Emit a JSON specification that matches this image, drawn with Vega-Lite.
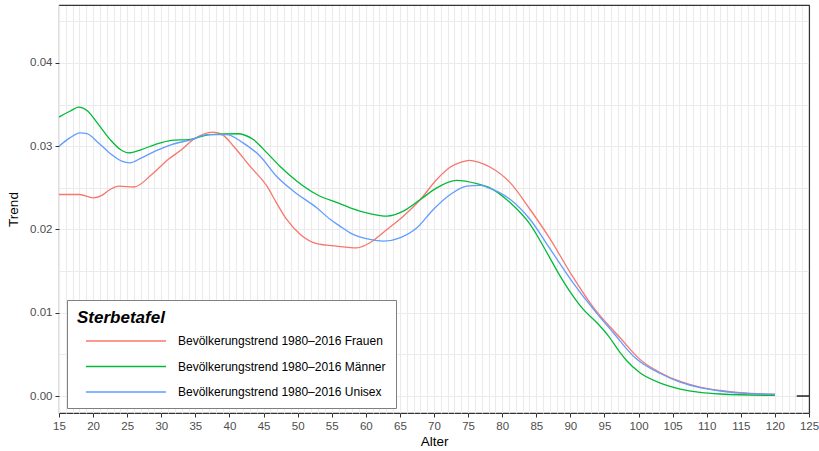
{
  "$schema": "https://vega.github.io/schema/vega-lite/v6.json",
  "width": 750,
  "height": 408,
  "autosize": "none",
  "padding": {"left": 59, "top": 5, "right": 10, "bottom": 38},
  "background": "white",
  "config": {
    "font": "Liberation Sans",
    "view": {"stroke": "#333333", "strokeWidth": 1.1},
    "axis": {
      "domain": false,
      "tickColor": "#333333",
      "tickSize": 4,
      "tickWidth": 1,
      "labelColor": "#4d4d4d",
      "labelFontSize": 11.5,
      "labelPadding": 3,
      "titleColor": "black",
      "titleFontSize": 13.5,
      "titleFontWeight": "normal",
      "gridColor": "#ebebeb",
      "gridWidth": 1.1
    }
  },
  "resolve": {"axis": {"x": "independent", "y": "independent"}},
  "datasets": {
    "kurven": [
      {"Sterbetafel": "Bevölkerungstrend 1980–2016 Frauen", "Alter": 15, "Trend": 0.0242},
      {"Sterbetafel": "Bevölkerungstrend 1980–2016 Frauen", "Alter": 18, "Trend": 0.0242},
      {"Sterbetafel": "Bevölkerungstrend 1980–2016 Frauen", "Alter": 20, "Trend": 0.0238},
      {"Sterbetafel": "Bevölkerungstrend 1980–2016 Frauen", "Alter": 21.3, "Trend": 0.0241},
      {"Sterbetafel": "Bevölkerungstrend 1980–2016 Frauen", "Alter": 22.5, "Trend": 0.0248},
      {"Sterbetafel": "Bevölkerungstrend 1980–2016 Frauen", "Alter": 23.8, "Trend": 0.0252},
      {"Sterbetafel": "Bevölkerungstrend 1980–2016 Frauen", "Alter": 26, "Trend": 0.0251},
      {"Sterbetafel": "Bevölkerungstrend 1980–2016 Frauen", "Alter": 28.6, "Trend": 0.0266},
      {"Sterbetafel": "Bevölkerungstrend 1980–2016 Frauen", "Alter": 31, "Trend": 0.0284},
      {"Sterbetafel": "Bevölkerungstrend 1980–2016 Frauen", "Alter": 33, "Trend": 0.0296},
      {"Sterbetafel": "Bevölkerungstrend 1980–2016 Frauen", "Alter": 34.7, "Trend": 0.0308},
      {"Sterbetafel": "Bevölkerungstrend 1980–2016 Frauen", "Alter": 37.6, "Trend": 0.0317},
      {"Sterbetafel": "Bevölkerungstrend 1980–2016 Frauen", "Alter": 39.1, "Trend": 0.0313},
      {"Sterbetafel": "Bevölkerungstrend 1980–2016 Frauen", "Alter": 40.6, "Trend": 0.0300},
      {"Sterbetafel": "Bevölkerungstrend 1980–2016 Frauen", "Alter": 43, "Trend": 0.0276},
      {"Sterbetafel": "Bevölkerungstrend 1980–2016 Frauen", "Alter": 45.5, "Trend": 0.0252},
      {"Sterbetafel": "Bevölkerungstrend 1980–2016 Frauen", "Alter": 46.9, "Trend": 0.0232},
      {"Sterbetafel": "Bevölkerungstrend 1980–2016 Frauen", "Alter": 48.4, "Trend": 0.0212},
      {"Sterbetafel": "Bevölkerungstrend 1980–2016 Frauen", "Alter": 50.4, "Trend": 0.0194},
      {"Sterbetafel": "Bevölkerungstrend 1980–2016 Frauen", "Alter": 52.8, "Trend": 0.0183},
      {"Sterbetafel": "Bevölkerungstrend 1980–2016 Frauen", "Alter": 55.7, "Trend": 0.0180},
      {"Sterbetafel": "Bevölkerungstrend 1980–2016 Frauen", "Alter": 58.7, "Trend": 0.0178},
      {"Sterbetafel": "Bevölkerungstrend 1980–2016 Frauen", "Alter": 60.6, "Trend": 0.0184},
      {"Sterbetafel": "Bevölkerungstrend 1980–2016 Frauen", "Alter": 63.1, "Trend": 0.0200},
      {"Sterbetafel": "Bevölkerungstrend 1980–2016 Frauen", "Alter": 65.5, "Trend": 0.0216},
      {"Sterbetafel": "Bevölkerungstrend 1980–2016 Frauen", "Alter": 68, "Trend": 0.0236},
      {"Sterbetafel": "Bevölkerungstrend 1980–2016 Frauen", "Alter": 70.4, "Trend": 0.0260},
      {"Sterbetafel": "Bevölkerungstrend 1980–2016 Frauen", "Alter": 72.4, "Trend": 0.0275},
      {"Sterbetafel": "Bevölkerungstrend 1980–2016 Frauen", "Alter": 74, "Trend": 0.0281},
      {"Sterbetafel": "Bevölkerungstrend 1980–2016 Frauen", "Alter": 75.2, "Trend": 0.0283},
      {"Sterbetafel": "Bevölkerungstrend 1980–2016 Frauen", "Alter": 76.5, "Trend": 0.0281},
      {"Sterbetafel": "Bevölkerungstrend 1980–2016 Frauen", "Alter": 78.2, "Trend": 0.0275},
      {"Sterbetafel": "Bevölkerungstrend 1980–2016 Frauen", "Alter": 81.2, "Trend": 0.0256},
      {"Sterbetafel": "Bevölkerungstrend 1980–2016 Frauen", "Alter": 84.1, "Trend": 0.0224},
      {"Sterbetafel": "Bevölkerungstrend 1980–2016 Frauen", "Alter": 87, "Trend": 0.0189},
      {"Sterbetafel": "Bevölkerungstrend 1980–2016 Frauen", "Alter": 90, "Trend": 0.0148},
      {"Sterbetafel": "Bevölkerungstrend 1980–2016 Frauen", "Alter": 93.6, "Trend": 0.0104},
      {"Sterbetafel": "Bevölkerungstrend 1980–2016 Frauen", "Alter": 97.3, "Trend": 0.0070},
      {"Sterbetafel": "Bevölkerungstrend 1980–2016 Frauen", "Alter": 100.2, "Trend": 0.0044},
      {"Sterbetafel": "Bevölkerungstrend 1980–2016 Frauen", "Alter": 103.2, "Trend": 0.0028},
      {"Sterbetafel": "Bevölkerungstrend 1980–2016 Frauen", "Alter": 106.1, "Trend": 0.00175},
      {"Sterbetafel": "Bevölkerungstrend 1980–2016 Frauen", "Alter": 109, "Trend": 0.00108},
      {"Sterbetafel": "Bevölkerungstrend 1980–2016 Frauen", "Alter": 112, "Trend": 0.00067},
      {"Sterbetafel": "Bevölkerungstrend 1980–2016 Frauen", "Alter": 114.9, "Trend": 0.0004},
      {"Sterbetafel": "Bevölkerungstrend 1980–2016 Frauen", "Alter": 120, "Trend": 0.0002},

      {"Sterbetafel": "Bevölkerungstrend 1980–2016 Männer", "Alter": 15, "Trend": 0.0335},
      {"Sterbetafel": "Bevölkerungstrend 1980–2016 Männer", "Alter": 16.6, "Trend": 0.0342},
      {"Sterbetafel": "Bevölkerungstrend 1980–2016 Männer", "Alter": 17.9, "Trend": 0.0347},
      {"Sterbetafel": "Bevölkerungstrend 1980–2016 Männer", "Alter": 19.1, "Trend": 0.0343},
      {"Sterbetafel": "Bevölkerungstrend 1980–2016 Männer", "Alter": 20.8, "Trend": 0.0326},
      {"Sterbetafel": "Bevölkerungstrend 1980–2016 Männer", "Alter": 22.5, "Trend": 0.0308},
      {"Sterbetafel": "Bevölkerungstrend 1980–2016 Männer", "Alter": 24, "Trend": 0.0296},
      {"Sterbetafel": "Bevölkerungstrend 1980–2016 Männer", "Alter": 25.2, "Trend": 0.0292},
      {"Sterbetafel": "Bevölkerungstrend 1980–2016 Männer", "Alter": 27.1, "Trend": 0.0296},
      {"Sterbetafel": "Bevölkerungstrend 1980–2016 Männer", "Alter": 29.1, "Trend": 0.0302},
      {"Sterbetafel": "Bevölkerungstrend 1980–2016 Männer", "Alter": 31.5, "Trend": 0.0307},
      {"Sterbetafel": "Bevölkerungstrend 1980–2016 Männer", "Alter": 34, "Trend": 0.0308},
      {"Sterbetafel": "Bevölkerungstrend 1980–2016 Männer", "Alter": 37.2, "Trend": 0.0314},
      {"Sterbetafel": "Bevölkerungstrend 1980–2016 Männer", "Alter": 41.1, "Trend": 0.0315},
      {"Sterbetafel": "Bevölkerungstrend 1980–2016 Männer", "Alter": 43.5, "Trend": 0.0308},
      {"Sterbetafel": "Bevölkerungstrend 1980–2016 Männer", "Alter": 45.5, "Trend": 0.0292},
      {"Sterbetafel": "Bevölkerungstrend 1980–2016 Männer", "Alter": 47.4, "Trend": 0.0276},
      {"Sterbetafel": "Bevölkerungstrend 1980–2016 Männer", "Alter": 49.9, "Trend": 0.0258},
      {"Sterbetafel": "Bevölkerungstrend 1980–2016 Männer", "Alter": 52.8, "Trend": 0.0242},
      {"Sterbetafel": "Bevölkerungstrend 1980–2016 Männer", "Alter": 56.2, "Trend": 0.0231},
      {"Sterbetafel": "Bevölkerungstrend 1980–2016 Männer", "Alter": 57.7, "Trend": 0.0226},
      {"Sterbetafel": "Bevölkerungstrend 1980–2016 Männer", "Alter": 60.6, "Trend": 0.0219},
      {"Sterbetafel": "Bevölkerungstrend 1980–2016 Männer", "Alter": 63.1, "Trend": 0.0216},
      {"Sterbetafel": "Bevölkerungstrend 1980–2016 Männer", "Alter": 65.5, "Trend": 0.0222},
      {"Sterbetafel": "Bevölkerungstrend 1980–2016 Männer", "Alter": 68, "Trend": 0.0236},
      {"Sterbetafel": "Bevölkerungstrend 1980–2016 Männer", "Alter": 70.4, "Trend": 0.0250},
      {"Sterbetafel": "Bevölkerungstrend 1980–2016 Männer", "Alter": 73.3, "Trend": 0.0259},
      {"Sterbetafel": "Bevölkerungstrend 1980–2016 Männer", "Alter": 76.3, "Trend": 0.0255},
      {"Sterbetafel": "Bevölkerungstrend 1980–2016 Männer", "Alter": 78.2, "Trend": 0.0250},
      {"Sterbetafel": "Bevölkerungstrend 1980–2016 Männer", "Alter": 81.2, "Trend": 0.0232},
      {"Sterbetafel": "Bevölkerungstrend 1980–2016 Männer", "Alter": 84.1, "Trend": 0.0206},
      {"Sterbetafel": "Bevölkerungstrend 1980–2016 Männer", "Alter": 86.3, "Trend": 0.0176},
      {"Sterbetafel": "Bevölkerungstrend 1980–2016 Männer", "Alter": 88.5, "Trend": 0.0144},
      {"Sterbetafel": "Bevölkerungstrend 1980–2016 Männer", "Alter": 90.4, "Trend": 0.0120},
      {"Sterbetafel": "Bevölkerungstrend 1980–2016 Männer", "Alter": 91.9, "Trend": 0.0104},
      {"Sterbetafel": "Bevölkerungstrend 1980–2016 Männer", "Alter": 93.9, "Trend": 0.0088},
      {"Sterbetafel": "Bevölkerungstrend 1980–2016 Männer", "Alter": 95.6, "Trend": 0.0072},
      {"Sterbetafel": "Bevölkerungstrend 1980–2016 Männer", "Alter": 97.3, "Trend": 0.0052},
      {"Sterbetafel": "Bevölkerungstrend 1980–2016 Männer", "Alter": 98.3, "Trend": 0.0042},
      {"Sterbetafel": "Bevölkerungstrend 1980–2016 Männer", "Alter": 100.2, "Trend": 0.0028},
      {"Sterbetafel": "Bevölkerungstrend 1980–2016 Männer", "Alter": 103.2, "Trend": 0.00156},
      {"Sterbetafel": "Bevölkerungstrend 1980–2016 Männer", "Alter": 106.1, "Trend": 0.00084},
      {"Sterbetafel": "Bevölkerungstrend 1980–2016 Männer", "Alter": 109, "Trend": 0.00043},
      {"Sterbetafel": "Bevölkerungstrend 1980–2016 Männer", "Alter": 112, "Trend": 0.00024},
      {"Sterbetafel": "Bevölkerungstrend 1980–2016 Männer", "Alter": 120, "Trend": 0.00007},

      {"Sterbetafel": "Bevölkerungstrend 1980–2016 Unisex", "Alter": 15, "Trend": 0.0300},
      {"Sterbetafel": "Bevölkerungstrend 1980–2016 Unisex", "Alter": 16.6, "Trend": 0.0310},
      {"Sterbetafel": "Bevölkerungstrend 1980–2016 Unisex", "Alter": 18.1, "Trend": 0.0316},
      {"Sterbetafel": "Bevölkerungstrend 1980–2016 Unisex", "Alter": 19.1, "Trend": 0.0315},
      {"Sterbetafel": "Bevölkerungstrend 1980–2016 Unisex", "Alter": 20.8, "Trend": 0.0304},
      {"Sterbetafel": "Bevölkerungstrend 1980–2016 Unisex", "Alter": 22.7, "Trend": 0.0290},
      {"Sterbetafel": "Bevölkerungstrend 1980–2016 Unisex", "Alter": 24.2, "Trend": 0.0282},
      {"Sterbetafel": "Bevölkerungstrend 1980–2016 Unisex", "Alter": 25.4, "Trend": 0.0280},
      {"Sterbetafel": "Bevölkerungstrend 1980–2016 Unisex", "Alter": 27.1, "Trend": 0.0286},
      {"Sterbetafel": "Bevölkerungstrend 1980–2016 Unisex", "Alter": 29.1, "Trend": 0.0294},
      {"Sterbetafel": "Bevölkerungstrend 1980–2016 Unisex", "Alter": 31.5, "Trend": 0.0302},
      {"Sterbetafel": "Bevölkerungstrend 1980–2016 Unisex", "Alter": 34.5, "Trend": 0.0308},
      {"Sterbetafel": "Bevölkerungstrend 1980–2016 Unisex", "Alter": 36.7, "Trend": 0.0314},
      {"Sterbetafel": "Bevölkerungstrend 1980–2016 Unisex", "Alter": 39.6, "Trend": 0.0314},
      {"Sterbetafel": "Bevölkerungstrend 1980–2016 Unisex", "Alter": 42, "Trend": 0.0304},
      {"Sterbetafel": "Bevölkerungstrend 1980–2016 Unisex", "Alter": 44.5, "Trend": 0.0288},
      {"Sterbetafel": "Bevölkerungstrend 1980–2016 Unisex", "Alter": 46.9, "Trend": 0.0264},
      {"Sterbetafel": "Bevölkerungstrend 1980–2016 Unisex", "Alter": 49.4, "Trend": 0.0246},
      {"Sterbetafel": "Bevölkerungstrend 1980–2016 Unisex", "Alter": 52.8, "Trend": 0.0226},
      {"Sterbetafel": "Bevölkerungstrend 1980–2016 Unisex", "Alter": 54.8, "Trend": 0.0212},
      {"Sterbetafel": "Bevölkerungstrend 1980–2016 Unisex", "Alter": 56.2, "Trend": 0.0204},
      {"Sterbetafel": "Bevölkerungstrend 1980–2016 Unisex", "Alter": 57.7, "Trend": 0.0196},
      {"Sterbetafel": "Bevölkerungstrend 1980–2016 Unisex", "Alter": 60.6, "Trend": 0.0188},
      {"Sterbetafel": "Bevölkerungstrend 1980–2016 Unisex", "Alter": 62.6, "Trend": 0.0186},
      {"Sterbetafel": "Bevölkerungstrend 1980–2016 Unisex", "Alter": 65, "Trend": 0.0190},
      {"Sterbetafel": "Bevölkerungstrend 1980–2016 Unisex", "Alter": 67.5, "Trend": 0.0202},
      {"Sterbetafel": "Bevölkerungstrend 1980–2016 Unisex", "Alter": 69.9, "Trend": 0.0224},
      {"Sterbetafel": "Bevölkerungstrend 1980–2016 Unisex", "Alter": 72.4, "Trend": 0.0242},
      {"Sterbetafel": "Bevölkerungstrend 1980–2016 Unisex", "Alter": 74.8, "Trend": 0.0252},
      {"Sterbetafel": "Bevölkerungstrend 1980–2016 Unisex", "Alter": 76.8, "Trend": 0.0253},
      {"Sterbetafel": "Bevölkerungstrend 1980–2016 Unisex", "Alter": 77.7, "Trend": 0.0251},
      {"Sterbetafel": "Bevölkerungstrend 1980–2016 Unisex", "Alter": 81.2, "Trend": 0.0236},
      {"Sterbetafel": "Bevölkerungstrend 1980–2016 Unisex", "Alter": 84.1, "Trend": 0.0212},
      {"Sterbetafel": "Bevölkerungstrend 1980–2016 Unisex", "Alter": 87, "Trend": 0.0177},
      {"Sterbetafel": "Bevölkerungstrend 1980–2016 Unisex", "Alter": 90.4, "Trend": 0.0136},
      {"Sterbetafel": "Bevölkerungstrend 1980–2016 Unisex", "Alter": 93.4, "Trend": 0.0104},
      {"Sterbetafel": "Bevölkerungstrend 1980–2016 Unisex", "Alter": 96.3, "Trend": 0.0076},
      {"Sterbetafel": "Bevölkerungstrend 1980–2016 Unisex", "Alter": 99.5, "Trend": 0.0046},
      {"Sterbetafel": "Bevölkerungstrend 1980–2016 Unisex", "Alter": 103.2, "Trend": 0.0027},
      {"Sterbetafel": "Bevölkerungstrend 1980–2016 Unisex", "Alter": 106.1, "Trend": 0.00166},
      {"Sterbetafel": "Bevölkerungstrend 1980–2016 Unisex", "Alter": 109, "Trend": 0.0010},
      {"Sterbetafel": "Bevölkerungstrend 1980–2016 Unisex", "Alter": 112, "Trend": 0.0006},
      {"Sterbetafel": "Bevölkerungstrend 1980–2016 Unisex", "Alter": 114.9, "Trend": 0.00035},
      {"Sterbetafel": "Bevölkerungstrend 1980–2016 Unisex", "Alter": 120, "Trend": 0.00022}
    ],
    "segment": [
      {"von": 123.2, "bis": 125, "wert": 0}
    ]
  },
  "layer": [
    {
      "data": {"name": "kurven"},
      "mark": {"type": "line", "strokeWidth": 1.3, "interpolate": "monotone", "clip": true},
      "encoding": {
        "x": {
          "field": "Alter",
          "type": "quantitative",
          "title": "Alter",
          "scale": {"domain": [15, 125], "nice": false, "zero": false},
          "axis": {
            "orient": "bottom",
            "values": [15,16,17,18,19,20,21,22,23,24,25,26,27,28,29,30,31,32,33,34,35,36,37,38,39,40,41,42,43,44,45,46,47,48,49,50,51,52,53,54,55,56,57,58,59,60,61,62,63,64,65,66,67,68,69,70,71,72,73,74,75,76,77,78,79,80,81,82,83,84,85,86,87,88,89,90,91,92,93,94,95,96,97,98,99,100,101,102,103,104,105,106,107,108,109,110,111,112,113,114,115,116,117,118,119,120,121,122,123,124,125],
            "tickCount": 500,
            "format": "d",
            "grid": true,
            "labelExpr": "datum.value % 5 === 0 ? datum.label : ''",
            "labelOverlap": false,
            "labelBound": false,
            "labelFlush": false,
            "tickOpacity": {"condition": {"test": "datum.value % 5 === 0", "value": 1}, "value": 0},
            "titlePadding": 3,
            "titleAnchor": "middle"
          }
        },
        "y": {
          "field": "Trend",
          "type": "quantitative",
          "title": "Trend",
          "scale": {"domain": [-0.00204, 0.04696], "nice": false, "zero": false},
          "axis": {
            "orient": "left",
            "values": [0, 0.005, 0.01, 0.015, 0.02, 0.025, 0.03, 0.035, 0.04, 0.045],
            "tickCount": 100,
            "grid": true,
            "format": ".2f",
            "labelExpr": "round(datum.value * 1000) % 10 === 0 ? datum.label : ''",
            "labelOverlap": false,
            "tickOpacity": {"condition": {"test": "round(datum.value * 1000) % 10 === 0", "value": 1}, "value": 0},
            "titlePadding": 9
          }
        },
        "color": {
          "field": "Sterbetafel",
          "type": "nominal",
          "scale": {"range": ["#F8766D", "#00BA38", "#619CFF"]},
          "legend": {
            "title": "Sterbetafel",
            "orient": "none",
            "legendX": 8,
            "legendY": 295,
            "padding": 10,
            "strokeColor": "#7f7f7f",
            "fillColor": "white",
            "titleFontSize": 17,
            "titleFontStyle": "italic",
            "titleFontWeight": "bold",
            "titleColor": "black",
            "titlePadding": 8,
            "labelFontSize": 12,
            "labelColor": "black",
            "labelLimit": 500,
            "symbolType": "M-8,0H8",
            "symbolSize": 100,
            "symbolStrokeWidth": 1.5,
            "symbolOffset": 43,
            "labelOffset": 46,
            "rowPadding": 13.5
          }
        }
      }
    },
    {
      "data": {"name": "segment"},
      "mark": {"type": "rule", "color": "black", "strokeWidth": 1.3},
      "encoding": {
        "x": {
          "field": "von",
          "type": "quantitative",
          "axis": {"orient": "top", "title": null, "labels": false, "ticks": false, "grid": false, "domain": true, "domainColor": "#333333", "domainWidth": 1.1, "zindex": 1}
        },
        "x2": {"field": "bis"},
        "y": {
          "field": "wert",
          "type": "quantitative",
          "axis": {"orient": "right", "title": null, "labels": false, "ticks": false, "grid": false, "domain": true, "domainColor": "#333333", "domainWidth": 1.1, "zindex": 1}
        }
      }
    }
  ]
}
